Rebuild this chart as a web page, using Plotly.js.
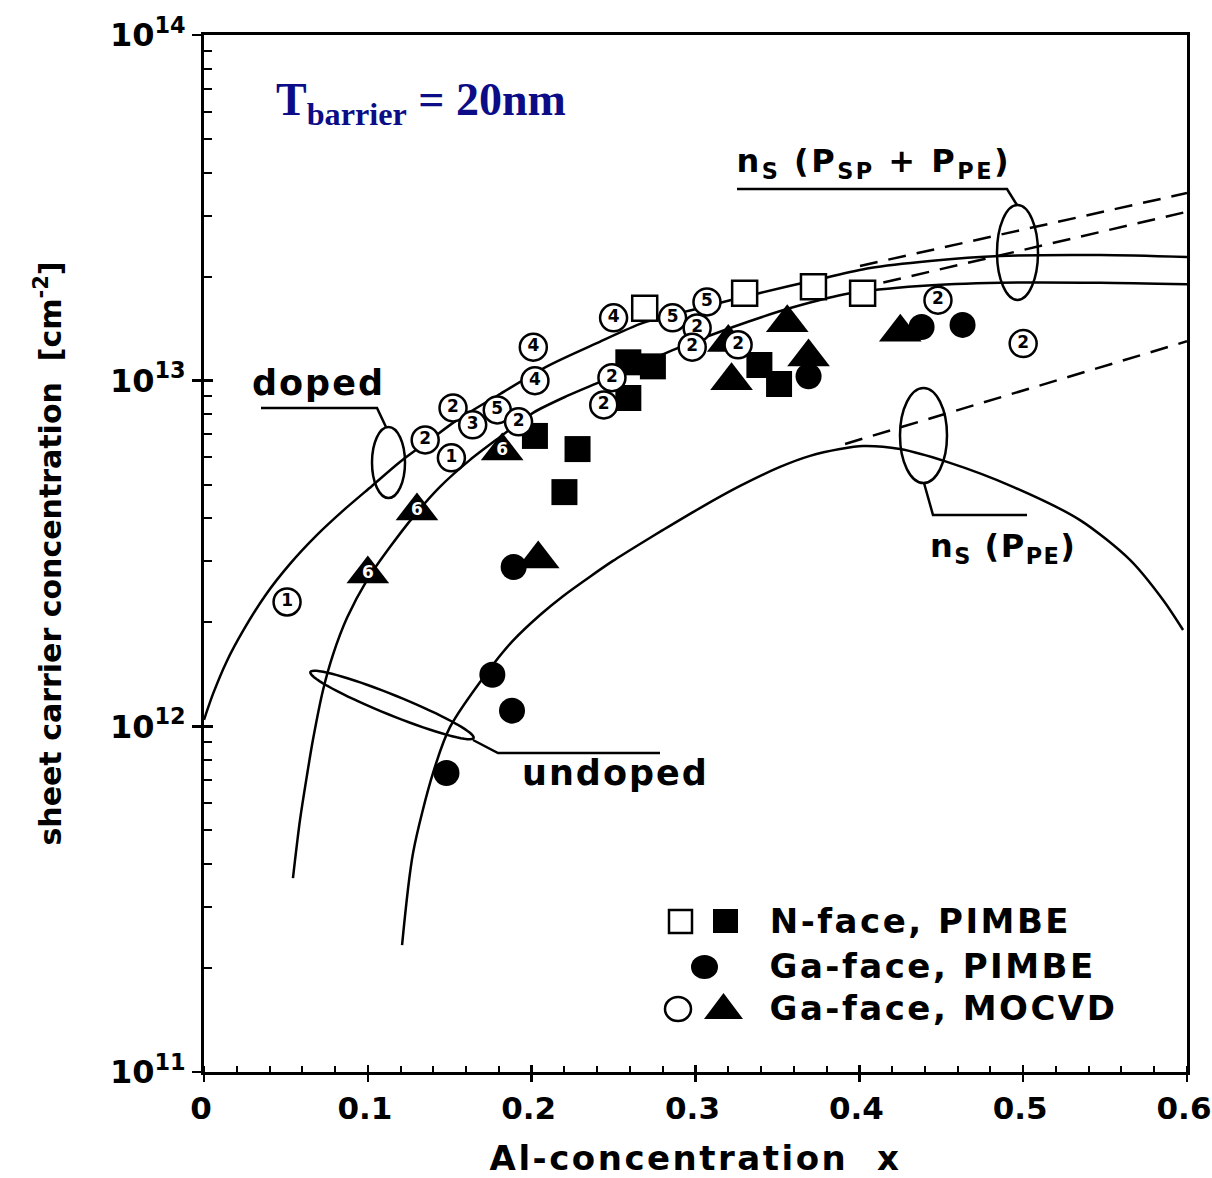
<!DOCTYPE html>
<html><head><meta charset="utf-8">
<script src="https://cdn.plot.ly/plotly-3.0.1.min.js"></script>
<style>
body{margin:0;background:#fff;}
#chart{width:1212px;height:1178px;}
g.annotation[data-index="1"] text, g.annotation[data-index="2"] text{letter-spacing:2px;}
g.annotation[data-index="3"] text{letter-spacing:2.5px;}
g.annotation[data-index="4"] text{letter-spacing:1.5px;}
g.annotation[data-index="5"] text, g.annotation[data-index="6"] text, g.annotation[data-index="7"] text{letter-spacing:2.5px;}
.xtitle{letter-spacing:2.5px;}
</style></head><body><div id="chart"></div><script>
// ---- theory curves ----
const dopedX = [0, 0.0055, 0.0140, 0.0238, 0.0372, 0.0525, 0.0690, 0.0861, 0.1025, 0.1196, 0.1379, 0.1544, 0.1807, 0.2094, 0.2387, 0.2680, 0.3027, 0.3394, 0.3760, 0.4065, 0.4431, 0.4859, 0.5469, 0.600];
const dopedY = [1.044e12, 1.241e12, 1.546e12, 1.888e12, 2.384e12, 2.950e12, 3.579e12, 4.255e12, 4.959e12, 5.818e12, 6.738e12, 7.69e12, 9.153e12, 1.10e13, 1.277e13, 1.469e13, 1.623e13, 1.794e13, 1.969e13, 2.118e13, 2.220e13, 2.295e13, 2.31e13, 2.28e13];
const undopedX = [0.0543, 0.0586, 0.0629, 0.0665, 0.0726, 0.0787, 0.0873, 0.0995, 0.1135, 0.1276, 0.1440, 0.1624, 0.1807, 0.2008, 0.2216, 0.2435, 0.2905, 0.3229, 0.3595, 0.3943, 0.437, 0.486, 0.547, 0.600];
const undopedY = [3.64e11, 5.36e11, 7.24e11, 9.14e11, 1.27e12, 1.61e12, 2.06e12, 2.65e12, 3.30e12, 4.03e12, 4.93e12, 5.90e12, 6.87e12, 8.07e12, 9.03e12, 1.00e13, 1.25e13, 1.43e13, 1.63e13, 1.79e13, 1.88e13, 1.92e13, 1.92e13, 1.90e13];
const ppeX = [0.1209, 0.1276, 0.1398, 0.1502, 0.1727, 0.1886, 0.2051, 0.2191, 0.2356, 0.2496, 0.2661, 0.2802, 0.3027, 0.3272, 0.3516, 0.3699, 0.3882, 0.4022, 0.4248, 0.4535, 0.4938, 0.5347, 0.5652, 0.5854, 0.5976];
const ppeY = [2.33e11, 4.30e11, 7.33e11, 9.96e11, 1.43e12, 1.77e12, 2.10e12, 2.38e12, 2.71e12, 3.01e12, 3.37e12, 3.70e12, 4.28e12, 4.96e12, 5.63e12, 6.06e12, 6.34e12, 6.47e12, 6.34e12, 5.82e12, 4.93e12, 3.95e12, 3.03e12, 2.32e12, 1.90e12];
// dashed extensions
const dash1X = [0.4004, 0.600]; const dash1Y = [2.147e13, 3.49e13];
const dash2X = [0.3974, 0.600]; const dash2Y = [1.84e13, 3.08e13];
const dash3X = [0.3913, 0.600]; const dash3Y = [6.56e12, 1.30e13];
// ---- measured points ----
const nOpenX = [0.269, 0.330, 0.372, 0.402];
const nOpenY = [1.62e13, 1.79e13, 1.87e13, 1.79e13];
const nFillX = [0.202, 0.228, 0.220, 0.259, 0.274, 0.259, 0.339, 0.351];
const nFillY = [6.92e12, 6.34e12, 4.76e12, 1.13e13, 1.10e13, 8.91e12, 1.11e13, 9.78e12];
const gaPimbeX = [0.189, 0.176, 0.188, 0.148, 0.369, 0.438, 0.463];
const gaPimbeY = [2.89e12, 1.41e12, 1.11e12, 7.33e11, 1.03e13, 1.43e13, 1.45e13];
const triX = [0.204, 0.320, 0.356, 0.322, 0.369, 0.425];
const triY = [3.05e12, 1.29e13, 1.47e13, 1.00e13, 1.17e13, 1.38e13];
const tri6X = [0.100, 0.130, 0.182];
const tri6Y = [2.76e12, 4.20e12, 6.26e12];
const tri6Label = ['6', '6', '6'];
const openX = [0.0507, 0.151, 0.135, 0.152, 0.164, 0.179, 0.192, 0.201, 0.202, 0.250, 0.249, 0.244, 0.286, 0.307, 0.301, 0.298, 0.326, 0.448, 0.500];
const openY = [2.29e12, 5.98e12, 6.74e12, 8.34e12, 7.45e12, 8.23e12, 7.60e12, 1.25e13, 1.00e13, 1.52e13, 1.02e13, 8.51e12, 1.52e13, 1.69e13, 1.42e13, 1.25e13, 1.27e13, 1.71e13, 1.28e13];
const openLabel = ['1', '1', '2', '2', '3', '5', '2', '4', '4', '4', '2', '2', '5', '5', '2', '2', '2', '2', '2'];
// ---- axes ----
const xTicks = [0, 0.1, 0.2, 0.3, 0.4, 0.5, 0.6];
const yTicks = [1e11, 1e12, 1e13, 1e14];
const yTickText = ['10<sup>11</sup>', '10<sup>12</sup>', '10<sup>13</sup>', '10<sup>14</sup>'];
const legendLabels = ['N-face, PIMBE', 'Ga-face, PIMBE', 'Ga-face, MOCVD'];

const yMinor = [];
for (let e = 11; e < 14; e++) for (let d = 2; d <= 9; d++) yMinor.push(d * Math.pow(10, e));

const F = 'DejaVu Sans';
const BK = '#000';
const L = 204, R = 1187, T = 35, B = 1072;
const px = v => (v - L) / (R - L);
const py = v => (B - v) / (B - T);

function line(x, y, dash) {
  return {x, y, mode: 'lines', line: {color: BK, width: 2.5, shape: dash ? 'linear' : 'spline', smoothing: 0.8, dash: dash ? '18px,11px' : 'solid'}, hoverinfo: 'skip', showlegend: false};
}
const traces = [
  line(dopedX, dopedY), line(undopedX, undopedY), line(ppeX, ppeY),
  line(dash1X, dash1Y, true), line(dash2X, dash2Y, true), line(dash3X, dash3Y, true),
  {x: nOpenX, y: nOpenY, mode: 'markers', marker: {symbol: 'square', size: 25, color: '#fff', line: {color: BK, width: 2.5}}, showlegend: false},
  {x: nFillX, y: nFillY, mode: 'markers', marker: {symbol: 'square', size: 26, color: BK}, showlegend: false},
  {x: gaPimbeX, y: gaPimbeY, mode: 'markers', marker: {symbol: 'circle', size: 26, color: BK}, showlegend: false},
  {x: triX, y: triY, mode: 'markers', marker: {symbol: 'triangle-up', size: 37, color: BK}, showlegend: false},
  {x: tri6X, y: tri6Y, text: tri6Label, mode: 'markers+text', textposition: 'middle center',
   textfont: {family: F, size: 17, color: '#fff', weight: 'bold'},
   marker: {symbol: 'triangle-up', size: 37, color: BK}, showlegend: false},
  {x: openX, y: openY, text: openLabel, mode: 'markers+text', textposition: 'middle center',
   textfont: {family: F, size: 17, color: BK, weight: 'bold'},
   marker: {symbol: 'circle', size: 27, color: '#fff', line: {color: BK, width: 2.5}}, showlegend: false},
  {x: [null], y: [null], xaxis: 'x2', yaxis: 'y2', mode: 'markers', showlegend: false, hoverinfo: 'skip'}
];

// tilted ellipse (undoped marker ring)
function ellipsePath(cx, cy, a, b, angDeg) {
  const t = angDeg * Math.PI / 180; let s = '';
  for (let i = 0; i <= 72; i++) {
    const th = i / 72 * 2 * Math.PI;
    const ex = cx + a * Math.cos(th) * Math.cos(t) - b * Math.sin(th) * Math.sin(t);
    const ey = cy + a * Math.cos(th) * Math.sin(t) + b * Math.sin(th) * Math.cos(t);
    s += (i ? 'L' : 'M') + px(ex).toFixed(5) + ',' + py(ey).toFixed(5);
  }
  return s + 'Z';
}
function poly(pts) { return pts.map((p, i) => (i ? 'L' : 'M') + px(p[0]).toFixed(5) + ',' + py(p[1]).toFixed(5)).join(''); }
const lw = {color: BK, width: 2.5};
const shapes = [
  {type: 'circle', xref: 'paper', yref: 'paper', x0: px(372), x1: px(405), y0: py(498), y1: py(427), line: lw},
  {type: 'circle', xref: 'paper', yref: 'paper', x0: px(997), x1: px(1038), y0: py(300), y1: py(205), line: lw},
  {type: 'circle', xref: 'paper', yref: 'paper', x0: px(900), x1: px(947), y0: py(483), y1: py(388), line: lw},
  {type: 'path', xref: 'paper', yref: 'paper', path: ellipsePath(392, 705, 88, 10, 22), line: lw},
  {type: 'path', xref: 'paper', yref: 'paper', path: poly([[261, 408], [377, 408], [386, 427]]), line: lw},
  {type: 'path', xref: 'paper', yref: 'paper', path: poly([[473, 740], [498, 753], [660, 753]]), line: lw},
  {type: 'path', xref: 'paper', yref: 'paper', path: poly([[737, 189], [1007, 189], [1017, 205]]), line: lw},
  {type: 'path', xref: 'paper', yref: 'paper', path: poly([[924, 483], [933, 515], [1027, 515]]), line: lw},
  // legend symbols
  {type: 'rect', xref: 'paper', yref: 'paper', x0: px(669), x1: px(692), y0: py(933), y1: py(910), fillcolor: '#fff', line: lw},
  {type: 'rect', xref: 'paper', yref: 'paper', x0: px(713), x1: px(738), y0: py(933), y1: py(909), fillcolor: BK, line: {width: 0}},
  {type: 'circle', xref: 'paper', yref: 'paper', x0: px(691), x1: px(718), y0: py(979), y1: py(955), fillcolor: BK, line: {width: 0}},
  {type: 'circle', xref: 'paper', yref: 'paper', x0: px(665), x1: px(691), y0: py(1021), y1: py(997), fillcolor: '#fff', line: lw},
  {type: 'path', xref: 'paper', yref: 'paper', path: poly([[704, 1019], [743, 1019], [723.5, 993]]) + 'Z', fillcolor: BK, line: {width: 0}}
];

const bold = (size, extra) => Object.assign({family: F, size: size, color: BK, weight: 'bold'}, extra || {});
function ann(text, x, y, xanchor, font) {
  return {text, x, y, xref: 'paper', yref: 'paper', xanchor, yanchor: 'middle', showarrow: false, font};
}
const annotations = [
  ann('T<sub>barrier</sub> = 20nm', px(274), py(103), 'left', {family: 'Liberation Serif', size: 46, color: '#0c0c86', weight: 'bold'}),
  ann('doped', px(318), py(383), 'center', bold(35)),
  ann('undoped', px(615), py(773), 'center', bold(35)),
  ann('n<sub>S</sub> (P<sub>SP</sub> + P<sub>PE</sub>)', px(752), py(163), 'left', bold(32)),
  ann('n<sub>S</sub> (P<sub>PE</sub>)', px(934), py(548), 'left', bold(32)),
  ann(legendLabels[0], px(784), py(921), 'left', bold(34)),
  ann(legendLabels[1], px(785), py(966), 'left', bold(34)),
  ann(legendLabels[2], px(785), py(1008), 'left', bold(34))
];

const layout = {
  width: 1212, height: 1178,
  margin: {l: L, r: 1212 - R, t: T, b: 1178 - B, pad: 0},
  paper_bgcolor: '#fff', plot_bgcolor: '#fff',
  showlegend: false,
  xaxis: {
    range: [0, 0.6], tickmode: 'array', tickvals: xTicks, ticktext: xTicks.map(String),
    ticks: 'outside', ticklen: 7, tickwidth: 2.5, tickcolor: BK, ticklabeloverflow: 'allow', ticklabelshift: -3,
    showline: true, linewidth: 3, linecolor: BK, mirror: true,
    showgrid: false, zeroline: false,
    minor: {tickmode: 'linear', tick0: 0, dtick: 0.02, ticks: 'inside', ticklen: 6, tickwidth: 2, tickcolor: BK, showgrid: false},
    tickfont: bold(31),
    title: {text: 'Al-concentration  x', font: bold(34), standoff: 22}
  },
  yaxis: {
    type: 'log', range: [11, 14], tickmode: 'array', tickvals: yTicks, ticktext: yTickText,
    ticks: 'outside', ticklen: 9, tickwidth: 2.5, tickcolor: BK, ticklabeloverflow: 'allow',
    showline: true, linewidth: 3, linecolor: BK, mirror: true,
    showgrid: false, zeroline: false,
    minor: {tickmode: 'array', tickvals: yMinor, ticks: 'inside', ticklen: 8, tickwidth: 2, tickcolor: BK, showgrid: false},
    tickfont: bold(32),
    title: {text: 'sheet carrier concentration  [cm<sup>-2</sup>]', font: bold(30), standoff: 40}
  },
  xaxis2: {overlaying: 'x', anchor: 'y2', range: [0, 0.6], tickmode: 'array', tickvals: xTicks,
    ticks: 'inside', ticklen: 7, tickwidth: 2.5, tickcolor: BK, showticklabels: false,
    showline: false, showgrid: false, zeroline: false},
  yaxis2: {overlaying: 'y', anchor: 'x2', type: 'log', range: [11, 14], tickmode: 'array', tickvals: yTicks,
    ticks: 'inside', ticklen: 9, tickwidth: 2.5, tickcolor: BK, showticklabels: false,
    showline: false, showgrid: false, zeroline: false},
  shapes, annotations
};
Plotly.newPlot('chart', traces, layout, {staticPlot: true, displayModeBar: false});
</script></body></html>
